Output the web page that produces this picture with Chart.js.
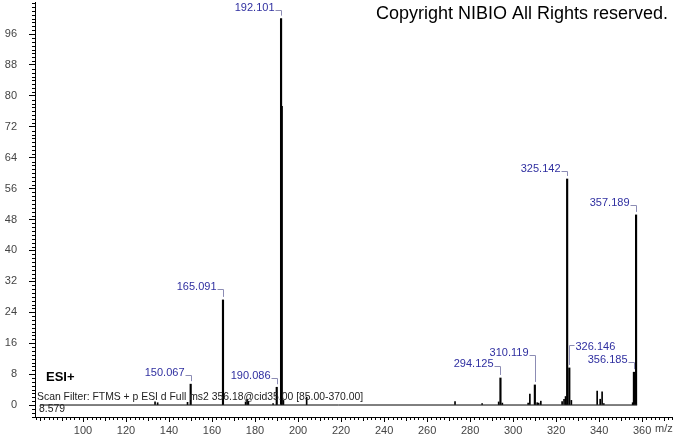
<!DOCTYPE html>
<html>
<head>
<meta charset="utf-8">
<script src="https://cdn.jsdelivr.net/npm/chart.js@4/dist/chart.umd.min.js"></script>
<style>
  body { margin: 0; background: #fff; }
  canvas { display: block; }
</style>
</head>
<body>
<canvas id="ms" width="674" height="434"></canvas>
<script>
// labelled peaks (m/z, relative abundance %)
const labelledMz = [150.067, 165.091, 190.086, 192.101, 294.125, 310.119, 325.142, 326.146, 356.185, 357.189];
const labelledInt = [5.4, 27.2, 4.6, 100, 7.0, 5.2, 58.5, 9.6, 8.5, 49.2];

// small unlabelled peaks
const minorMz = [133.5, 134.7, 148.6, 175.6, 176.3, 176.9, 188.4, 192.55, 193.2, 204.0,
  273.0, 285.6, 293.3, 295.0, 307.0, 307.8, 311.2, 311.9, 312.9,
  322.8, 323.7, 324.4, 327.1, 339.1, 340.5, 341.4, 342.2, 355.6];
const minorInt = [0.8, 0.6, 0.7, 0.8, 1.5, 1.0, 0.4, 77.3, 1.2, 2.0,
  0.9, 0.4, 0.8, 0.5, 0.5, 2.8, 0.6, 0.5, 1.0,
  0.9, 1.5, 2.2, 1.2, 3.6, 1.5, 3.4, 0.4, 0.6];

const baselineRange = [80, 357.7];
const xTicks = [100, 120, 140, 160, 180, 200, 220, 240, 260, 280, 300, 320, 340, 360];
const yTicks = [0, 8, 16, 24, 32, 40, 48, 56, 64, 72, 80, 88, 96];

// where each peak label sits relative to its peak top
const labelLayout = {
  150.067: { lift: 11, side: 'left' },
  165.091: { lift: 13, side: 'left' },
  190.086: { lift: 11, side: 'left' },
  192.101: { lift: 11, side: 'left' },
  294.125: { lift: 14, side: 'left' },
  310.119: { lift: 32, side: 'left' },
  325.142: { lift: 10, side: 'left' },
  326.146: { lift: 21, side: 'right' },
  356.185: { lift: 12, side: 'left' },
  357.189: { lift: 12, side: 'left' }
};

const FONT = "'Liberation Sans', Arial, sans-serif";

const extras = {
  id: 'extras',
  afterDraw(chart) {
    const ctx = chart.ctx;
    const xs = chart.scales.x, ys = chart.scales.y;
    ctx.save();
    // minor ticks
    ctx.strokeStyle = '#000';
    ctx.lineWidth = 1;
    ctx.beginPath();
    for (let v = -3; v <= 104; v++) {
      if (v % 8 === 0 && v >= 0 && v <= 96) continue;
      const y = Math.round(ys.getPixelForValue(v)) + 0.5;
      ctx.moveTo(xs.left - 3, y);
      ctx.lineTo(xs.left, y);
    }
    for (let v = 78; v <= 374; v += 2) {
      if (v % 20 === 0 && v >= 100 && v <= 360) continue;
      const x = Math.round(xs.getPixelForValue(v)) + 0.5;
      const len = v % 10 === 0 ? 4 : 3;
      ctx.moveTo(x, ys.bottom);
      ctx.lineTo(x, ys.bottom + len);
    }
    ctx.stroke();

    // peak labels with brackets
    ctx.font = '11px ' + FONT;
    ctx.textBaseline = 'middle';
    labelledMz.forEach((m, i) => {
      const lay = labelLayout[m];
      const px = Math.round(xs.getPixelForValue(m)) + 0.5;
      const top = ys.getPixelForValue(labelledInt[i]);
      const ty = Math.round(top - lay.lift);
      const txt = m.toFixed(3);
      ctx.strokeStyle = '#8c8cb4';
      ctx.beginPath();
      if (lay.side === 'left') {
        ctx.moveTo(px - 6, ty + 2.5);
        ctx.lineTo(px, ty + 2.5);
        ctx.lineTo(px, top - 3);
        ctx.stroke();
        ctx.fillStyle = '#2f2fa0';
        ctx.textAlign = 'right';
        ctx.fillText(txt, px - 7, ty);
      } else {
        ctx.moveTo(px, top - 3);
        ctx.lineTo(px, ty - 1.5);
        ctx.lineTo(px + 5, ty - 1.5);
        ctx.stroke();
        ctx.fillStyle = '#2f2fa0';
        ctx.textAlign = 'left';
        ctx.fillText(txt, px + 6, ty);
      }
    });

    // texts
    ctx.fillStyle = '#000';
    ctx.textAlign = 'left';
    ctx.font = '18px ' + FONT;
    ctx.fillText('Copyright NIBIO All Rights reserved.', 376, 14);
    ctx.font = 'bold 13px ' + FONT;
    ctx.fillText('ESI+', 46, 377);
    ctx.fillStyle = '#222';
    ctx.font = '10.4px ' + FONT;
    ctx.fillText('Scan Filter: FTMS + p ESI d Full ms2 356.18@cid35.00 [85.00-370.00]', 37, 397);
    ctx.fillText('8.579', 39, 409);
    ctx.font = '11px ' + FONT;
    ctx.fillStyle = '#444';
    ctx.fillText('m/z', 655, 429);
    ctx.restore();
  }
};

new Chart(document.getElementById('ms'), {
  data: {
    datasets: [
      {
        type: 'line',
        data: baselineRange.map(v => ({ x: v, y: 0 })),
        borderColor: '#000',
        borderWidth: 1,
        pointRadius: 0
      },
      {
        type: 'bar',
        data: labelledMz.map((m, i) => ({ x: m, y: labelledInt[i] })),
        backgroundColor: '#000',
        barThickness: 1.5,
        grouped: false
      },
      {
        type: 'bar',
        data: minorMz.map((m, i) => ({ x: m, y: minorInt[i] })),
        backgroundColor: '#000',
        barThickness: 1,
        grouped: false
      }
    ]
  },
  options: {
    responsive: false,
    animation: false,
    layout: { padding: { top: 2, right: 2, left: 0, bottom: 0 } },
    plugins: { legend: { display: false }, tooltip: { enabled: false } },
    scales: {
      x: {
        type: 'linear',
        offset: false,
        min: 77.67,
        max: 373.9,
        afterFit(s) { s.height = 17; s.paddingLeft = 0; s.paddingRight = 0; },
        afterBuildTicks(s) { s.ticks = xTicks.map(v => ({ value: v })); },
        grid: { drawOnChartArea: false, tickLength: 5, color: '#000', offset: false },
        border: { color: '#000' },
        ticks: { font: { family: FONT, size: 11 }, color: '#444', padding: 2, maxRotation: 0, autoSkip: false }
      },
      y: {
        type: 'linear',
        min: -3.1,
        max: 104.3,
        afterFit(s) { s.width = 35; s.paddingTop = 0; s.paddingBottom = 0; },
        afterBuildTicks(s) { s.ticks = yTicks.map(v => ({ value: v })); },
        grid: { drawOnChartArea: false, tickLength: 6, color: '#000' },
        border: { color: '#000' },
        ticks: { font: { family: FONT, size: 11 }, color: '#444', padding: 12, autoSkip: false }
      }
    }
  },
  plugins: [extras]
});
</script>
</body>
</html>
